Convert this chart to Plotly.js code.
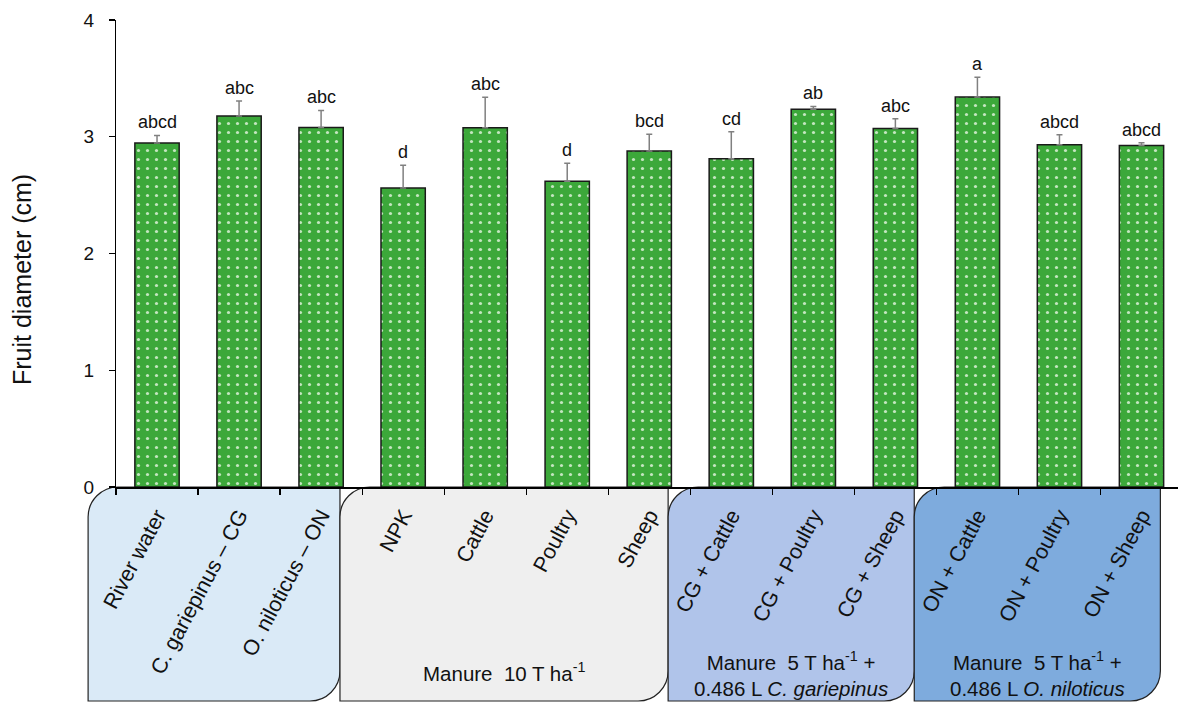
<!DOCTYPE html>
<html>
<head>
<meta charset="utf-8">
<script src="https://cdn.plot.ly/plotly-3.0.1.min.js"></script>
<style>html,body{margin:0;padding:0;background:#fff;overflow:hidden}#chart{width:1178px;height:702px}</style>
</head>
<body>
<div id="chart"></div>
<script>
// ---- data ----
const categories = ["River water", "C. gariepinus – CG", "O. niloticus – ON",
  "NPK", "Cattle", "Poultry", "Sheep",
  "CG + Cattle", "CG + Poultry", "CG + Sheep",
  "ON + Cattle", "ON + Poultry", "ON + Sheep"];
const meanDiameter = [2.946, 3.177, 3.080, 2.560, 3.078, 2.618, 2.877, 2.812, 3.235, 3.070, 3.340, 2.932, 2.924];
const errorUpper   = [0.065, 0.130, 0.145, 0.195, 0.260, 0.155, 0.145, 0.230, 0.025, 0.085, 0.170, 0.085, 0.025];
const letters = ["abcd", "abc", "abc", "d", "abc", "d", "bcd", "cd", "ab", "abc", "a", "abcd", "abcd"];
const groupLabels = ["", "Manure  10 T ha<sup>-1</sup>",
  "Manure  5 T ha<sup>-1</sup> +<br>0.486 L <i>C. gariepinus</i>",
  "Manure  5 T ha<sup>-1</sup> +<br>0.486 L <i>O. niloticus</i>"];
const groupSizes = [3, 4, 3, 3];
const groupColors = ["#DAEAF7", "#EFEFEF", "#B0C4EA", "#7EABDD"];
const yTitle = "Fruit diameter (cm)";
const yTickVals = [0, 1, 2, 3, 4];

// ---- layout geometry ----
const W = 1178, H = 702;
const mL = 116, mR = 0, mT = 20, mB = 215;
const plotW = W - mL - mR, plotH = H - mT - mB;
const catW = 82.04;
const xMax = -0.5 + plotW / catW;
const span = xMax + 0.5;
const toPaperX = c => (c + 0.5) / span;
const pxToPaperX = p => (p - mL) / plotW;
const pxToPaperY = p => (mT + plotH - p) / plotH;
const font = "Liberation Sans, Arial, sans-serif";

const trace = {
  type: "bar",
  x: categories,
  y: meanDiameter,
  width: 0.54,
  marker: {
    color: "#3CA83A",
    line: {color: "#1a1a1a", width: 1.5},
    pattern: {shape: ".", fgcolor: "#c4e6c0", bgcolor: "#3CA83A", size: 9, solidity: 0.1, fillmode: "replace"}
  },
  error_y: {type: "data", symmetric: false, array: errorUpper,
            arrayminus: errorUpper.map(() => 0), color: "#808080", thickness: 1.5, width: 3},
  hoverinfo: "x+y"
};

const annotations = categories.map((c, i) => ({
  x: c, y: meanDiameter[i] + errorUpper[i], xref: "x", yref: "y",
  text: letters[i], showarrow: false, yanchor: "bottom", yshift: 1,
  font: {family: font, size: 18, color: "#111"}
}));

// y-axis title (placed as in the reference, slightly below the plot centre)
annotations.push({
  xref: "paper", yref: "paper", x: pxToPaperX(22), y: pxToPaperY(280),
  text: yTitle, textangle: -90, showarrow: false, xanchor: "center", yanchor: "middle",
  font: {family: font, size: 25, color: "#111"}
});

// group boxes
const shapes = [];
const offset = -0.27;
let start = 0;
const yb = pxToPaperY(H - 1);
const rx = 30 / plotW, ry = 30 / plotH, k = 0.5523;
groupSizes.forEach((n, g) => {
  const left = g === 0 ? -0.5 - 0.34 : start - 0.5 + offset;
  const right = start + n - 0.5 + offset;
  const x0 = toPaperX(left), x1 = toPaperX(right);
  const path = `M ${x0 + rx} 0 L ${x1} 0 L ${x1} ${yb + ry} ` +
    `C ${x1} ${yb + ry * (1 - k)} ${x1 - rx * (1 - k)} ${yb} ${x1 - rx} ${yb} ` +
    `L ${x0} ${yb} L ${x0} ${-ry} ` +
    `C ${x0} ${-ry * (1 - k)} ${x0 + rx * (1 - k)} 0 ${x0 + rx} 0 Z`;
  shapes.push({type: "path", xref: "paper", yref: "paper", path: path,
    fillcolor: groupColors[g], line: {color: "#222", width: 1.2}, layer: "below"});
  if (groupLabels[g]) {
    const twoLines = groupLabels[g].includes("<br>");
    annotations.push({
      xref: "paper", yref: "paper", x: (x0 + x1) / 2,
      y: pxToPaperY(twoLines ? 674 : 672),
      text: groupLabels[g], showarrow: false, xanchor: "center", yanchor: "middle",
      font: {family: font, size: 20.5, color: "#111"}
    });
  }
  start += n;
});

const layout = {
  width: W, height: H,
  margin: {l: mL, r: mR, t: mT, b: mB, pad: 0},
  paper_bgcolor: "#fff", plot_bgcolor: "#fff",
  showlegend: false,
  xaxis: {
    type: "category", range: [-0.5, xMax], showgrid: false, zeroline: false,
    showline: true, linecolor: "#000", linewidth: 1.5,
    ticks: "outside", tickson: "boundaries", ticklen: 6, tickcolor: "#000", tickwidth: 1.2,
    tickangle: -62, tickfont: {family: font, size: 21.5, color: "#111"}, ticklabelstandoff: 6,
    fixedrange: true
  },
  yaxis: {
    range: [0, 4], tickmode: "array", tickvals: yTickVals,
    ticktext: yTickVals.map(v => v + "\u00a0\u00a0"),
    showgrid: false, zeroline: false,
    showline: true, linecolor: "#000", linewidth: 1.5,
    ticks: "outside", ticklen: 6, tickcolor: "#000", tickwidth: 1.2,
    tickfont: {family: font, size: 19, color: "#111"},
    fixedrange: true
  },
  shapes: shapes,
  annotations: annotations
};

Plotly.newPlot("chart", [trace], layout, {displayModeBar: false, staticPlot: true});
</script>
</body>
</html>
